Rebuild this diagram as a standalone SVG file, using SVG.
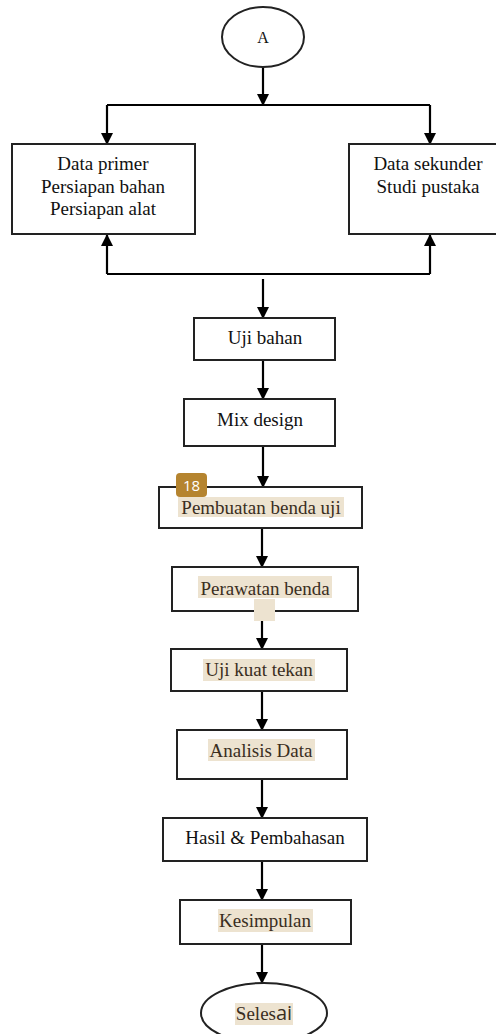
<svg xmlns="http://www.w3.org/2000/svg" width="496" height="1034" viewBox="0 0 496 1034">
<defs>
<marker id="ah" markerWidth="12" markerHeight="12" viewBox="0 0 12 12" refX="11" refY="6" orient="auto" markerUnits="userSpaceOnUse">
<path d="M0,0 L12,6 L0,12 Z" fill="#000"/>
</marker>
</defs>
<style>
.box{fill:#fff;stroke:#222;stroke-width:2}
.t{font-size:19px;fill:#111;text-anchor:middle}
.th{fill:#3a2e1e}
.hl{fill:#ede3d0}
.c{fill:none;stroke:#000;stroke-width:2.2}
.ca{fill:none;stroke:#000;stroke-width:2.2;marker-end:url(#ah)}
</style>
<rect width="496" height="1034" fill="#fff"/>
<g id="connectors">
<line class="ca" x1="263" y1="67" x2="263" y2="105"/>
<polyline class="c" points="107,105 430,105"/>
<line class="ca" x1="107" y1="105" x2="107" y2="144"/>
<line class="ca" x1="430" y1="105" x2="430" y2="144"/>
<polyline class="c" points="107,274 430,274"/>
<line class="ca" x1="107" y1="274" x2="107" y2="235"/>
<line class="ca" x1="430" y1="274" x2="430" y2="235"/>
<line class="ca" x1="263" y1="279" x2="263" y2="318"/>
<line class="ca" x1="263" y1="360" x2="263" y2="399"/>
<line class="ca" x1="263" y1="446" x2="263" y2="487"/>
<line class="ca" x1="262" y1="528" x2="262" y2="567"/>
<line class="ca" x1="262" y1="611" x2="262" y2="649"/>
<line class="ca" x1="262" y1="691" x2="262" y2="730"/>
<line class="ca" x1="262" y1="779" x2="262" y2="818"/>
<line class="ca" x1="262" y1="861" x2="262" y2="900"/>
<line class="ca" x1="262" y1="944" x2="262" y2="983"/>
</g>
<g font-family="Liberation Serif, Times New Roman, DejaVu Serif, serif">
<g id="nodeA">
<ellipse class="box" cx="263" cy="37" rx="41" ry="30"/>
<text class="t" x="263" y="43" style="font-size:16px">A</text>
</g>
<g id="nodePrimer">
<rect class="box" x="12" y="144" width="183" height="90"/>
<text class="t" x="103" y="170">Data primer</text>
<text class="t" x="103" y="193">Persiapan bahan</text>
<text class="t" x="103" y="215">Persiapan alat</text>
</g>
<g id="nodeSekunder">
<rect class="box" x="349" y="144" width="150" height="90"/>
<text class="t" x="428" y="170">Data sekunder</text>
<text class="t" x="428" y="193">Studi pustaka</text>
</g>
<g id="nodeUjiBahan">
<rect class="box" x="194" y="318" width="141" height="42"/>
<text class="t" x="265" y="344">Uji bahan</text>
</g>
<g id="nodeMix">
<rect class="box" x="184" y="399" width="151" height="47"/>
<text class="t" x="260" y="426">Mix design</text>
</g>
<g id="nodePembuatan">
<rect class="box" x="159" y="487" width="203" height="41"/>
<rect class="hl" x="178" y="497" width="166" height="20"/>
<text class="t th" x="261" y="514">Pembuatan benda uji</text>
<rect x="176" y="473" width="31" height="24" rx="4" fill="#b5842f"/>
<text x="191.5" y="491" font-family="Open Sans, Noto Sans, sans-serif" font-size="15" fill="#fff" text-anchor="middle">18</text>
</g>
<g id="nodePerawatan">
<rect class="box" x="172" y="567" width="186" height="44"/>
<rect class="hl" x="198" y="576" width="134" height="22"/>
<rect class="hl" x="254" y="599" width="21" height="22"/>
<text class="t th" x="265" y="595">Perawatan benda</text>
</g>
<g id="nodeUjiKuat">
<rect class="box" x="171" y="649" width="176" height="42"/>
<rect class="hl" x="203" y="659" width="112" height="22"/>
<text class="t th" x="259" y="676">Uji kuat tekan</text>
</g>
<g id="nodeAnalisis">
<rect class="box" x="177" y="730" width="170" height="49"/>
<rect class="hl" x="208" y="739" width="107" height="22"/>
<text class="t th" x="261" y="757">Analisis Data</text>
</g>
<g id="nodeHasil">
<rect class="box" x="163" y="818" width="204" height="43"/>
<text class="t" x="265" y="844">Hasil &amp; Pembahasan</text>
</g>
<g id="nodeKesimpulan">
<rect class="box" x="180" y="900" width="171" height="44"/>
<rect class="hl" x="218" y="909" width="95" height="23"/>
<text class="t th" x="265" y="927">Kesimpulan</text>
</g>
<g id="nodeSelesai">
<ellipse class="box" cx="264" cy="1013" rx="63" ry="30"/>
<rect class="hl" x="235" y="1003" width="58" height="22"/>
<text class="t th" x="264" y="1020"><tspan>Seles</tspan><tspan font-family="Open Sans, Noto Sans, sans-serif" font-size="20">ai</tspan></text>
</g>
</g>
</svg>
